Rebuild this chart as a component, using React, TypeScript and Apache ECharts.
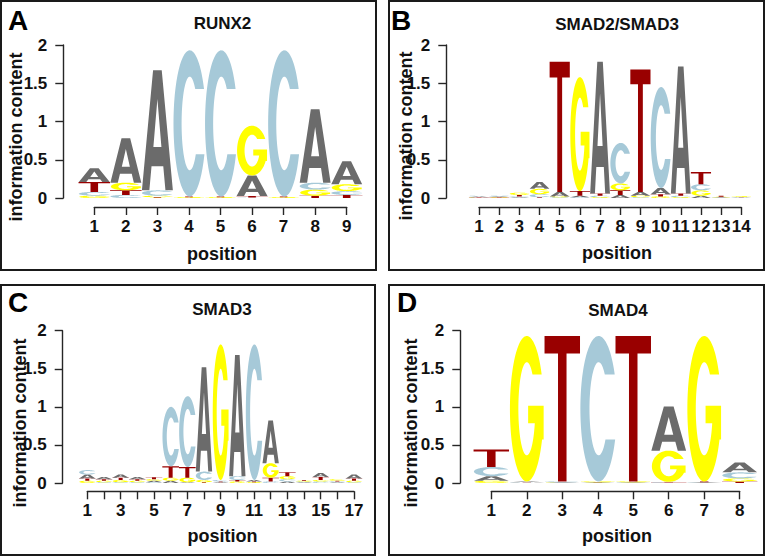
import React, { useEffect, useRef } from 'react';
import * as echarts from 'echarts';

const FONT = '"Liberation Sans", Arial, Helvetica, sans-serif';
const LETTERS = ['A', 'C', 'G', 'T'];
const LETTER_COLORS = ['#6b6b6b', '#a6c9d8', '#ffff00', '#990000'];
const LETTER_WIDTH = [0.98, 0.98, 0.95, 1.0];
const yTickLabels = ['0', '0.5', '1', '1.5', '2'];

// Panel A: RUNX2
const runx2Positions = [1, 2, 3, 4, 5, 6, 7, 8, 9];
const runx2A = [0.18, 0.58, 1.57, 0.0, 0.0, 0.27, 0.0, 0.96, 0.30];
const runx2C = [0.05, 0.04, 0.07, 1.91, 1.91, 0.005, 1.91, 0.09, 0.05];
const runx2G = [0.03, 0.10, 0.02, 0.01, 0.01, 0.65, 0.01, 0.08, 0.09];
const runx2T = [0.13, 0.06, 0.01, 0.01, 0.01, 0.02, 0.01, 0.03, 0.04];
const runx2TickLabels = ['1', '2', '3', '4', '5', '6', '7', '8', '9'];

// Panel B: SMAD2/SMAD3
const smad23Positions = [1, 2, 3, 4, 5, 6, 7, 8, 9, 10, 11, 12, 13, 14];
const smad23A = [0.01, 0.008, 0.01, 0.09, 0.06, 0.02, 1.72, 0.04, 0.05, 0.08, 1.66, 0.03, 0.005, 0.005];
const smad23C = [0.01, 0.01, 0.01, 0.04, 0.01, 0.01, 0.02, 0.53, 0.01, 1.32, 0.02, 0.08, 0.005, 0.005];
const smad23G = [0.006, 0.006, 0.03, 0.07, 0.01, 1.49, 0.01, 0.09, 0.02, 0.02, 0.01, 0.07, 0.005, 0.008];
const smad23T = [0.005, 0.006, 0.02, 0.01, 1.70, 0.06, 0.03, 0.06, 1.60, 0.03, 0.03, 0.16, 0.015, 0.004];
const smad23TickLabels = ['1', '2', '3', '4', '5', '6', '7', '8', '9', '10', '11', '12', '13', '14'];

// Panel C: SMAD3
const smad3Positions = [1, 2, 3, 4, 5, 6, 7, 8, 9, 10, 11, 12, 13, 14, 15, 16, 17];
const smad3A = [0.05, 0.03, 0.04, 0.03, 0.02, 0.03, 0.01, 1.37, 0.01, 1.59, 0.02, 0.56, 0.02, 0.01, 0.05, 0.01, 0.05];
const smad3C = [0.06, 0.01, 0.01, 0.01, 0.01, 0.78, 0.93, 0.11, 0.02, 0.05, 1.78, 0.02, 0.03, 0.01, 0.02, 0.01, 0.01];
const smad3G = [0.03, 0.02, 0.03, 0.02, 0.02, 0.04, 0.06, 0.03, 1.78, 0.02, 0.01, 0.19, 0.04, 0.01, 0.02, 0.02, 0.02];
const smad3T = [0.03, 0.02, 0.03, 0.02, 0.025, 0.15, 0.14, 0.01, 0.01, 0.02, 0.01, 0.05, 0.05, 0.01, 0.04, 0.01, 0.03];
const smad3TickLabels = ['1', '', '3', '', '5', '', '7', '', '9', '', '11', '', '13', '', '15', '', '17'];

// Panel D: SMAD4
const smad4Positions = [1, 2, 3, 4, 5, 6, 7, 8];
const smad4A = [0.06, 0.01, 0.005, 0.005, 0.005, 0.58, 0.005, 0.13];
const smad4C = [0.12, 0.005, 0.01, 1.91, 0.005, 0.01, 0.005, 0.08];
const smad4G = [0.03, 1.91, 0.005, 0.01, 0.01, 0.41, 1.91, 0.04];
const smad4T = [0.23, 0.005, 1.91, 0.005, 1.91, 0.005, 0.01, 0.02];
const smad4TickLabels = ['1', '2', '3', '4', '5', '6', '7', '8'];

// ---------- glyph shapes (unit box 0..100) ----------
function ep(rx: number, ry: number, deg: number): number[] {
  const r = (deg * Math.PI) / 180;
  return [50 + rx * Math.cos(r), 50 - ry * Math.sin(r)];
}
function toPath(pts: number[][]): string {
  return pts.map((p, i) => (i === 0 ? 'M' : 'L') + p[0].toFixed(2) + ' ' + p[1].toFixed(2)).join(' ') + ' Z';
}
const RX_IN = 25;
const RY_IN = 32;
function innerAngleAtY(y: number): number {
  const s = Math.max(-1, Math.min(1, (50 - y) / RY_IN));
  return (Math.asin(s) * 180) / Math.PI;
}
function buildC(): string {
  const a0 = 28;
  const a1 = 335;
  const pts: number[][] = [];
  for (let a = a0; a < a1; a += 3) pts.push(ep(50, 50, a));
  pts.push(ep(50, 50, a1));
  const yTop = ep(50, 50, a0)[1];
  const yBot = ep(50, 50, a1)[1];
  const bTop = innerAngleAtY(yTop);
  const bBot = 360 + innerAngleAtY(yBot);
  for (let b = bBot; b > bTop; b -= 3) pts.push(ep(RX_IN, RY_IN, b));
  pts.push(ep(RX_IN, RY_IN, bTop));
  return toPath(pts);
}
function buildG(): string {
  const a0 = 28;
  const a1 = 335;
  const pts: number[][] = [];
  for (let a = a0; a < a1; a += 3) pts.push(ep(50, 50, a));
  const end = ep(50, 50, a1);
  pts.push(end);
  pts.push([100, end[1]]);
  pts.push([100, 48]);
  pts.push([54, 48]);
  pts.push([54, 60]);
  const bStart = 360 + innerAngleAtY(60);
  const bTop = innerAngleAtY(ep(50, 50, a0)[1]);
  for (let b = bStart; b > bTop; b -= 3) pts.push(ep(RX_IN, RY_IN, b));
  pts.push(ep(RX_IN, RY_IN, bTop));
  return toPath(pts);
}
const GLYPHS = [
  'M0 100 L36 0 L64 0 L100 100 L76 100 L69 80 L31 80 L24 100 Z M37 64 L63 64 L50 24 Z',
  buildC(),
  buildG(),
  'M0 0 L100 0 L100 12 L62 12 L62 100 L38 100 L38 12 L0 12 Z',
];

function buildStacks(positions: number[], a: number[], c: number[], g: number[], t: number[]) {
  const out: number[][] = [];
  positions.forEach((p, i) => {
    const items = [a[i], c[i], g[i], t[i]].map((h, li) => ({ h, li })).filter((d) => d.h > 0);
    items.sort((x, y) => x.h - y.h || x.li - y.li);
    let base = 0;
    items.forEach((d) => {
      out.push([p, base, base + d.h, d.li]);
      base += d.h;
    });
  });
  return out;
}

const panels = [
  {
    key: 'A', title: 'RUNX2', positions: runx2Positions, a: runx2A, c: runx2C, g: runx2G, t: runx2T, ticks: runx2TickLabels,
    box: [1, 1, 375, 269], grid: [94.3, 45, 252.4, 153], yOff: 31, xOff: 9,
    letterPos: [8, 20], titlePos: [222.5, 23], yNamePos: [16, 137], xNamePos: [222, 254],
  },
  {
    key: 'B', title: 'SMAD2/SMAD3', positions: smad23Positions, a: smad23A, c: smad23C, g: smad23G, t: smad23T, ticks: smad23TickLabels,
    box: [389, 1, 375, 269], grid: [479, 45, 262.3, 153], yOff: 32.7, xOff: 9,
    letterPos: [391, 20], titlePos: [617, 24], yNamePos: [406, 136], xNamePos: [617, 253],
  },
  {
    key: 'C', title: 'SMAD3', positions: smad3Positions, a: smad3A, c: smad3C, g: smad3G, t: smad3T, ticks: smad3TickLabels,
    box: [1, 285, 374, 270], grid: [87.3, 330.7, 266.7, 152.3], yOff: 24.6, xOff: 8.3,
    letterPos: [8, 302], titlePos: [222, 309], yNamePos: [20, 423], xNamePos: [222.5, 536],
  },
  {
    key: 'D', title: 'SMAD4', positions: smad4Positions, a: smad4A, c: smad4C, g: smad4G, t: smad4T, ticks: smad4TickLabels,
    box: [389, 285, 375, 270], grid: [491.3, 330.7, 248.4, 152.3], yOff: 31, xOff: 8.3,
    letterPos: [397, 302], titlePos: [618, 310], yNamePos: [411, 423], xNamePos: [617, 536],
  },
];

const AXIS_COLOR = '#262626';

export default function App() {
  const ref = useRef<HTMLDivElement>(null);
  useEffect(() => {
    if (!ref.current) return;
    const chart = echarts.init(ref.current, undefined, { renderer: 'svg' });
    const grids: any[] = [];
    const xAxes: any[] = [];
    const yAxes: any[] = [];
    const series: any[] = [];
    const graphics: any[] = [];
    panels.forEach((p, i) => {
      grids.push({ left: p.grid[0], top: p.grid[1], width: p.grid[2], height: p.grid[3], containLabel: false });
      const ticks = p.ticks;
      xAxes.push({
        gridIndex: i, type: 'value', min: 1, max: p.positions.length, interval: 1, position: 'bottom', offset: p.xOff,
        axisLine: { show: true, onZero: false, lineStyle: { color: AXIS_COLOR, width: 1.4 } },
        axisTick: { show: true, length: 8, lineStyle: { color: AXIS_COLOR, width: 1.4 } },
        axisLabel: {
          margin: 11, fontSize: 17, fontWeight: 'bold', color: '#111', fontFamily: FONT,
          formatter: (v: number) => ticks[Math.round(v) - 1] ?? '',
        },
        splitLine: { show: false },
      });
      yAxes.push({
        gridIndex: i, type: 'value', min: 0, max: 2, interval: 0.5, position: 'left', offset: p.yOff,
        axisLine: { show: true, onZero: false, lineStyle: { color: AXIS_COLOR, width: 1.4 } },
        axisTick: { show: true, length: 8, lineStyle: { color: AXIS_COLOR, width: 1.4 } },
        axisLabel: {
          margin: 16, fontSize: 17, fontWeight: 'bold', color: '#111', fontFamily: FONT,
          formatter: (v: number) => yTickLabels[Math.round(v * 2)] ?? '',
        },
        splitLine: { show: false },
      });
      series.push({
        type: 'custom', xAxisIndex: i, yAxisIndex: i, clip: false,
        encode: { x: 0, y: [1, 2] },
        data: buildStacks(p.positions, p.a, p.c, p.g, p.t),
        renderItem: (params: any, api: any) => {
          const pos = api.value(0);
          const y0 = api.value(1);
          const y1 = api.value(2);
          const li = api.value(3);
          const top = api.coord([pos, y1]);
          const bot = api.coord([pos, y0]);
          const colW = api.size([1, 0])[0];
          const w = colW * LETTER_WIDTH[li];
          return {
            type: 'path',
            shape: { pathData: GLYPHS[li], x: top[0] - w / 2, y: top[1], width: w, height: Math.max(bot[1] - top[1], 0.05), layout: 'cover' },
            style: { fill: LETTER_COLORS[li] },
          };
        },
      });
      graphics.push({
        type: 'rect', shape: { x: p.box[0], y: p.box[1], width: p.box[2], height: p.box[3] },
        style: { fill: 'none', stroke: '#1a1a1a', lineWidth: 2 }, silent: true,
      });
      graphics.push({
        type: 'text', x: p.letterPos[0], y: p.letterPos[1],
        style: { text: p.key, font: `bold 28px ${FONT}`, fill: '#000', textAlign: 'left', textVerticalAlign: 'middle' },
      });
      graphics.push({
        type: 'text', x: p.titlePos[0], y: p.titlePos[1],
        style: { text: p.title, font: `bold 17px ${FONT}`, fill: '#111', textAlign: 'center', textVerticalAlign: 'middle' },
      });
      graphics.push({
        type: 'text', x: p.yNamePos[0], y: p.yNamePos[1], rotation: Math.PI / 2,
        style: { text: 'information content', font: `bold 18px ${FONT}`, fill: '#111', textAlign: 'center', textVerticalAlign: 'middle' },
      });
      graphics.push({
        type: 'text', x: p.xNamePos[0], y: p.xNamePos[1],
        style: { text: 'position', font: `bold 18px ${FONT}`, fill: '#111', textAlign: 'center', textVerticalAlign: 'middle' },
      });
    });
    chart.setOption({
      animation: false,
      backgroundColor: '#ffffff',
      grid: grids,
      xAxis: xAxes,
      yAxis: yAxes,
      series,
      graphic: { elements: graphics },
    });
    return () => chart.dispose();
  }, []);
  return <div ref={ref} style={{ position: 'fixed', left: 0, top: 0, width: 766, height: 556 }} />;
}
